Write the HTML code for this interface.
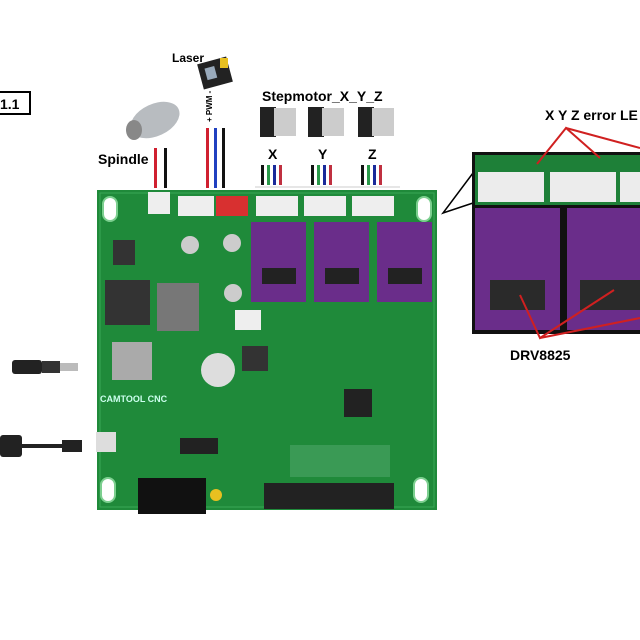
<!DOCTYPE html>
<html><head><meta charset="utf-8"><style>
body{margin:0;background:#fff}
svg{display:block}
text{font-family:"Liberation Sans",sans-serif;font-weight:bold}
</style></head><body>
<svg width="640" height="640" viewBox="0 0 640 640" xmlns="http://www.w3.org/2000/svg">
<rect width="640" height="640" fill="#fff"/>
<rect x="-2" y="92" width="32" height="22" fill="#fff" stroke="#000" stroke-width="2"/>
<text x="0" y="109" font-size="14">1.1</text>
<text x="172" y="62" font-size="12">Laser</text>
<rect x="200" y="60" width="30" height="26" fill="#222" transform="rotate(-15 215 73)"/>
<rect x="206" y="66" width="10" height="12" fill="#9ab" transform="rotate(-15 215 73)"/>
<rect x="220" y="58" width="8" height="10" fill="#e8c020"/>
<text x="212" y="122" font-size="8" transform="rotate(-90 212 122)">+ PWM -</text>
<rect x="206" y="128" width="3" height="60" fill="#d02030"/>
<rect x="214" y="128" width="3" height="60" fill="#2040c0"/>
<rect x="222" y="128" width="3" height="60" fill="#111"/>
<ellipse cx="155" cy="120" rx="26" ry="16" fill="#b8bcc0" transform="rotate(-25 155 120)"/>
<ellipse cx="134" cy="130" rx="8" ry="10" fill="#888"/>
<text x="98" y="164" font-size="14">Spindle</text>
<rect x="154" y="148" width="3" height="40" fill="#d02030"/>
<rect x="164" y="148" width="3" height="40" fill="#111"/>
<text x="262" y="101" font-size="14">Stepmotor_X_Y_Z</text>
<g fill="#222"><rect x="260" y="107" width="16" height="30"/><rect x="308" y="107" width="16" height="30"/><rect x="358" y="107" width="16" height="30"/></g>
<g fill="#ccc"><rect x="274" y="108" width="22" height="28"/><rect x="322" y="108" width="22" height="28"/><rect x="372" y="108" width="22" height="28"/></g>
<text x="268" y="159" font-size="14">X</text><text x="318" y="159" font-size="14">Y</text><text x="368" y="159" font-size="14">Z</text>
<g>
<rect x="261" y="165" width="3" height="20" fill="#111"/><rect x="267" y="165" width="3" height="20" fill="#2a9a4a"/><rect x="273" y="165" width="3" height="20" fill="#1a2a9a"/><rect x="279" y="165" width="3" height="20" fill="#c03040"/>
<rect x="311" y="165" width="3" height="20" fill="#111"/><rect x="317" y="165" width="3" height="20" fill="#2a9a4a"/><rect x="323" y="165" width="3" height="20" fill="#1a2a9a"/><rect x="329" y="165" width="3" height="20" fill="#c03040"/>
<rect x="361" y="165" width="3" height="20" fill="#111"/><rect x="367" y="165" width="3" height="20" fill="#2a9a4a"/><rect x="373" y="165" width="3" height="20" fill="#1a2a9a"/><rect x="379" y="165" width="3" height="20" fill="#c03040"/>
</g>
<line x1="255" y1="187" x2="400" y2="187" stroke="#ccc" stroke-width="1"/>
<rect x="97" y="190" width="340" height="320" fill="#1f8a3a"/>
<rect x="100" y="193" width="334" height="314" fill="none" stroke="#3aa855" stroke-width="1"/>
<g fill="#fff" stroke="#7ccf8f" stroke-width="2">
<rect x="103" y="197" width="14" height="24" rx="7"/><rect x="417" y="197" width="14" height="24" rx="7"/>
<rect x="101" y="478" width="14" height="24" rx="7"/><rect x="414" y="478" width="14" height="24" rx="7"/>
</g>
<rect x="148" y="192" width="22" height="22" fill="#eee"/>
<rect x="178" y="196" width="36" height="20" fill="#eee"/>
<rect x="216" y="196" width="32" height="20" fill="#d83030"/>
<rect x="256" y="196" width="42" height="20" fill="#eee"/>
<rect x="304" y="196" width="42" height="20" fill="#eee"/>
<rect x="352" y="196" width="42" height="20" fill="#eee"/>
<rect x="251" y="222" width="55" height="80" fill="#6a2d8a"/>
<rect x="314" y="222" width="55" height="80" fill="#6a2d8a"/>
<rect x="377" y="222" width="55" height="80" fill="#6a2d8a"/>
<g fill="#222"><rect x="262" y="268" width="34" height="16"/><rect x="325" y="268" width="34" height="16"/><rect x="388" y="268" width="34" height="16"/></g>
<rect x="105" y="280" width="45" height="45" fill="#333"/>
<rect x="157" y="283" width="42" height="48" fill="#777"/>
<rect x="112" y="342" width="40" height="38" fill="#aaa"/>
<circle cx="218" cy="370" r="17" fill="#ddd"/>
<circle cx="232" cy="243" r="9" fill="#ccc"/><circle cx="233" cy="293" r="9" fill="#ccc"/><circle cx="190" cy="245" r="9" fill="#ccc"/>
<rect x="242" y="346" width="26" height="25" fill="#333"/>
<rect x="235" y="310" width="26" height="20" fill="#eee"/>
<rect x="113" y="240" width="22" height="25" fill="#333"/>
<rect x="344" y="389" width="28" height="28" fill="#222"/>
<rect x="180" y="438" width="38" height="16" fill="#222"/>
<rect x="138" y="478" width="68" height="36" fill="#111"/>
<circle cx="216" cy="495" r="6" fill="#e8c020"/>
<rect x="264" y="483" width="130" height="26" fill="#222"/>
<rect x="290" y="445" width="100" height="32" fill="#3a9a55"/>
<rect x="96" y="432" width="20" height="20" fill="#ddd"/>
<text x="100" y="402" font-size="9" fill="#cfe" font-weight="normal">CAMTOOL CNC</text>
<rect x="12" y="360" width="30" height="14" rx="3" fill="#222"/>
<rect x="42" y="361" width="18" height="12" fill="#333"/>
<rect x="60" y="363" width="18" height="8" fill="#bbb"/>
<rect x="0" y="435" width="22" height="22" rx="3" fill="#222"/>
<rect x="22" y="444" width="40" height="4" fill="#222"/>
<rect x="62" y="440" width="20" height="12" fill="#222"/>
<polyline points="473,173 443,213 473,203" fill="none" stroke="#000" stroke-width="1.5"/>
<rect x="472" y="152" width="170" height="182" fill="#111"/>
<rect x="475" y="155" width="167" height="50" fill="#1e8038"/>
<rect x="478" y="172" width="66" height="30" fill="#ececec"/>
<rect x="550" y="172" width="66" height="30" fill="#ececec"/>
<rect x="620" y="172" width="22" height="30" fill="#ececec"/>
<rect x="475" y="208" width="85" height="122" fill="#6a2d8a"/>
<rect x="567" y="208" width="75" height="122" fill="#6a2d8a"/>
<rect x="490" y="280" width="55" height="30" fill="#2a2a2a"/>
<rect x="580" y="280" width="60" height="30" fill="#2a2a2a"/>
<text x="545" y="120" font-size="14">X Y Z error LE</text>
<polyline points="537,164 566,128 600,158" fill="none" stroke="#d02020" stroke-width="2"/>
<line x1="566" y1="128" x2="640" y2="148" stroke="#d02020" stroke-width="2"/>
<polyline points="520,295 540,338 614,290" fill="none" stroke="#d02020" stroke-width="2"/>
<line x1="540" y1="338" x2="640" y2="318" stroke="#d02020" stroke-width="2"/>
<text x="510" y="360" font-size="14">DRV8825</text>
</svg>
</body></html>
